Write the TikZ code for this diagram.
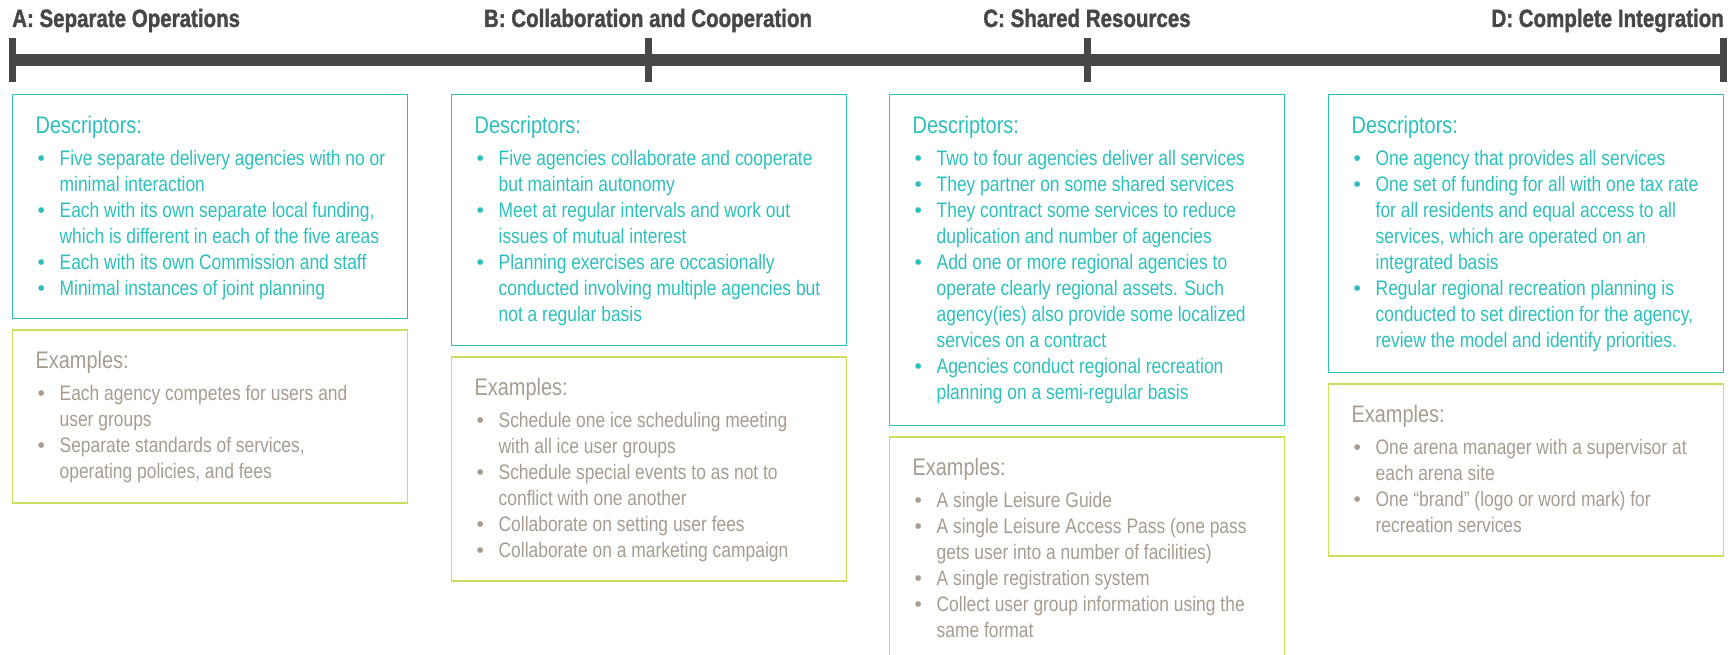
\documentclass[tikz,border=0pt]{standalone}
\usepackage{fontspec}
\setmainfont{Liberation Sans}[FakeStretch=0.83]
\newfontfamily\stagefont{Liberation Sans}[FakeStretch=0.82, BoldFeatures={FakeBold=1.4}]
\newfontfamily\dotfont{Liberation Sans}
\usetikzlibrary{positioning}
\definecolor{bargray}{HTML}{47474A}
\definecolor{descteal}{HTML}{2DBFBA}
\definecolor{exlime}{HTML}{CEDD5C}
\definecolor{extaupe}{HTML}{A69C90}
\newcommand\panelbody[3]{\parbox[t][#1][t]{349pt}{\fontsize{21}{26}\selectfont\lineskiplimit=-\maxdimen
\noindent\rule{0pt}{39pt}{\fontsize{24}{26}\selectfont #2}\par\vspace{6pt}#3}}
\newcommand\pitem[1]{\par\noindent\makebox[24pt][l]{\hspace{2pt}{\dotfont\textbullet}}\mbox{#1}}
\newcommand\pline[1]{\par\noindent\hspace*{24pt}\mbox{#1}}
\tikzset{
panel/.style = {draw, rectangle, line width=1.3pt, inner xsep=23pt, inner ysep=0pt, anchor=north west},
descbox/.style = {panel, draw=descteal, text=descteal},
exbox/.style = {panel, draw=exlime, text=extaupe},
stage/.style = {font=\stagefont\bfseries\fontsize{25}{25}\selectfont, text=bargray, inner sep=0pt},
timeline/.style = {line width=12pt, draw=bargray},
tickmark/.style = {line width=7pt, draw=bargray}
}
\begin{document}
\begin{tikzpicture}[x=1pt, y=-1pt]
\useasboundingbox (0,0) rectangle (1735,655);
\coordinate (mA) at (12.5,60);
\coordinate (mB) at (648,60);
\coordinate (mC) at (1087,60);
\coordinate (mD) at (1723.5,60);
\draw[timeline] (mA) -- (mD);
\foreach \m in {mA,mB,mC,mD}
  \draw[tickmark] ([yshift=22pt]\m) -- ([yshift=-22pt]\m);
\node[stage, anchor=base west] (stageA) at (12,27) {A: Separate Operations};
\node[stage, anchor=base] (stageB) at (648,27) {B: Collaboration and Cooperation};
\node[stage, anchor=base] (stageC) at (1087,27) {C: Shared Resources};
\node[stage, anchor=base east] (stageD) at (1724,27) {D: Complete Integration};

\node[descbox] (descA) at (12,94) {\panelbody{224pt}{Descriptors:}{%
\pitem{Five separate delivery agencies with no or}
\pline{minimal interaction}
\pitem{Each with its own separate local funding,}
\pline{which is different in each of the five areas}
\pitem{Each with its own Commission and staff}
\pitem{Minimal instances of joint planning}}};
\node[exbox, below=10pt of descA] (exA) {\panelbody{173pt}{Examples:}{%
\pitem{Each agency competes for users and}
\pline{user groups}
\pitem{Separate standards of services,}
\pline{operating policies, and fees}}};

\node[descbox] (descB) at (451,94) {\panelbody{251pt}{Descriptors:}{%
\pitem{Five agencies collaborate and cooperate}
\pline{but maintain autonomy}
\pitem{Meet at regular intervals and work out}
\pline{issues of mutual interest}
\pitem{Planning exercises are occasionally}
\pline{conducted involving multiple agencies but}
\pline{not a regular basis}}};
\node[exbox, below=10pt of descB] (exB) {\panelbody{224pt}{Examples:}{%
\pitem{Schedule one ice scheduling meeting}
\pline{with all ice user groups}
\pitem{Schedule special events to as not to}
\pline{conflict with one another}
\pitem{Collaborate on setting user fees}
\pitem{Collaborate on a marketing campaign}}};

\node[descbox] (descC) at (889,94) {\panelbody{331pt}{Descriptors:}{%
\pitem{Two to four agencies deliver all services}
\pitem{They partner on some shared services}
\pitem{They contract some services to reduce}
\pline{duplication and number of agencies}
\pitem{Add one or more regional agencies to}
\pline{operate clearly regional assets. Such}
\pline{agency(ies) also provide some localized}
\pline{services on a contract}
\pitem{Agencies conduct regional recreation}
\pline{planning on a semi-regular basis}}};
\node[exbox, below=10pt of descC] (exC) {\panelbody{250pt}{Examples:}{%
\pitem{A single Leisure Guide}
\pitem{A single Leisure Access Pass (one pass}
\pline{gets user into a number of facilities)}
\pitem{A single registration system}
\pitem{Collect user group information using the}
\pline{same format}}};

\node[descbox] (descD) at (1328,94) {\panelbody{278pt}{Descriptors:}{%
\pitem{One agency that provides all services}
\pitem{One set of funding for all with one tax rate}
\pline{for all residents and equal access to all}
\pline{services, which are operated on an}
\pline{integrated basis}
\pitem{Regular regional recreation planning is}
\pline{conducted to set direction for the agency,}
\pline{review the model and identify priorities.}}};
\node[exbox, below=10pt of descD] (exD) {\panelbody{172pt}{Examples:}{%
\pitem{One arena manager with a supervisor at}
\pline{each arena site}
\pitem{One “brand” (logo or word mark) for}
\pline{recreation services}}};
\end{tikzpicture}
\end{document}
